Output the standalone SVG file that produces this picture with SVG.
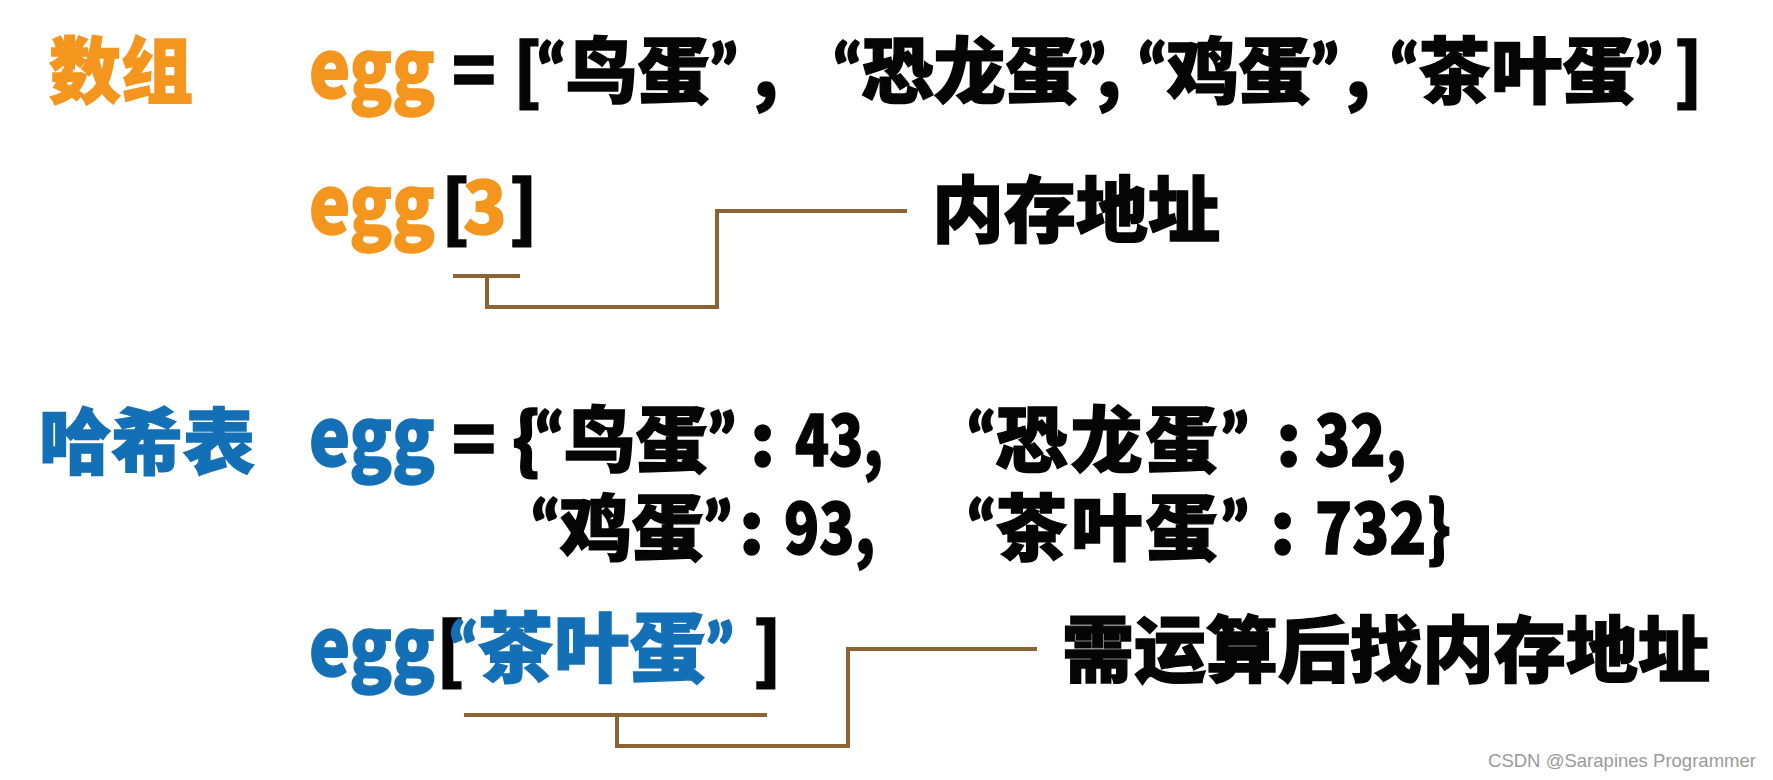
<svg xmlns="http://www.w3.org/2000/svg" width="1773" height="780" viewBox="0 0 1773 780">
<style>
text { font-family: "Noto Sans CJK SC", "Noto Sans", sans-serif; font-weight: 900; font-size: 72px; fill: #050505; stroke: #050505; stroke-width: 1.4px; }
.or { fill: #F4961E; stroke: #F4961E; }
.bl { fill: #1470B6; stroke: #1470B6; }
.egg { font-size: 80px; }
.q { font-family: Lato, "Noto Sans", sans-serif; font-weight: 900; }
.ls { letter-spacing: 3px; }
.big { font-size: 76px; }
.conn { fill: none; stroke: #8B6436; stroke-width: 4; stroke-linejoin: miter; stroke-linecap: butt; }
.wm { font-family: "Liberation Sans", Arial, sans-serif; font-weight: 400; font-size: 19px; fill: #9a9a9a; stroke: none; }
</style>
<rect width="1773" height="780" fill="#ffffff"/>

<g id="array-label"><text class="or" x="49" y="97">数组</text></g>

<g id="array-def">
  <text class="or egg" x="309" y="98" textLength="126" lengthAdjust="spacingAndGlyphs">egg</text>
  <text y="97"><tspan x="452">=</tspan><tspan x="513">[</tspan><tspan x="537" class="q">“</tspan>鸟蛋<tspan class="q">”</tspan><tspan x="753">,</tspan><tspan x="833" class="q">“</tspan>恐龙蛋<tspan class="q">”</tspan><tspan x="1096">,</tspan><tspan x="1138" class="q">“</tspan>鸡蛋<tspan class="q">”</tspan><tspan x="1345">,</tspan><tspan x="1390" class="q">“</tspan>茶叶蛋<tspan class="q">”</tspan><tspan x="1674">]</tspan></text>
</g>

<g id="array-access">
  <text class="or egg" x="309" y="234" textLength="126" lengthAdjust="spacingAndGlyphs">egg</text>
  <text y="234"><tspan x="441">[</tspan><tspan class="or" x="463">3</tspan><tspan x="509">]</tspan></text>
</g>

<g id="array-address"><text x="932" y="236">内存地址</text></g>

<g id="hash-label"><text class="bl" x="39" y="468">哈希表</text></g>

<g id="hash-def">
  <text class="bl egg" x="309" y="466" textLength="126" lengthAdjust="spacingAndGlyphs">egg</text>
  <text y="466"><tspan x="452">=</tspan><tspan x="512">{</tspan><tspan x="535" class="q">“</tspan>鸟蛋<tspan class="q">”</tspan><tspan x="750">:</tspan></text>
  <text x="795" y="466" textLength="88" lengthAdjust="spacingAndGlyphs">43,</text>
  <text y="466"><tspan x="967" class="q">“</tspan><tspan class="ls">恐龙蛋</tspan><tspan class="q">”</tspan><tspan x="1276">:</tspan></text>
  <text x="1315" y="466" textLength="91" lengthAdjust="spacingAndGlyphs">32,</text>
  <text y="554"><tspan x="531" class="q">“</tspan>鸡蛋<tspan class="q">”</tspan><tspan x="739">:</tspan></text>
  <text x="784" y="554" textLength="91" lengthAdjust="spacingAndGlyphs">93,</text>
  <text y="554"><tspan x="967" class="q">“</tspan><tspan class="ls">茶叶蛋</tspan><tspan class="q">”</tspan><tspan x="1270">:</tspan></text>
  <text x="1315" y="554" textLength="136" lengthAdjust="spacingAndGlyphs">732}</text>
</g>

<g id="hash-access">
  <text y="676"><tspan class="bl egg" x="309" textLength="126" lengthAdjust="spacingAndGlyphs">egg</tspan></text>
  <text y="676"><tspan x="436">[</tspan><tspan class="bl q" x="449">“</tspan><tspan class="bl big">茶叶蛋</tspan><tspan class="bl q">”</tspan><tspan x="753">]</tspan></text>
</g>

<g id="hash-address"><text x="1062" y="676">需运算后找内存地址</text></g>

<g id="connectors">
  <path class="conn" d="M453,276 H520 M487,276 V307 H717 V211 H907"/>
  <path class="conn" d="M464,715 H767 M617,715 V746 H848 V649 H1037"/>
</g>

<text class="wm" x="1488" y="767" textLength="268" lengthAdjust="spacingAndGlyphs">CSDN @Sarapines Programmer</text>
</svg>
